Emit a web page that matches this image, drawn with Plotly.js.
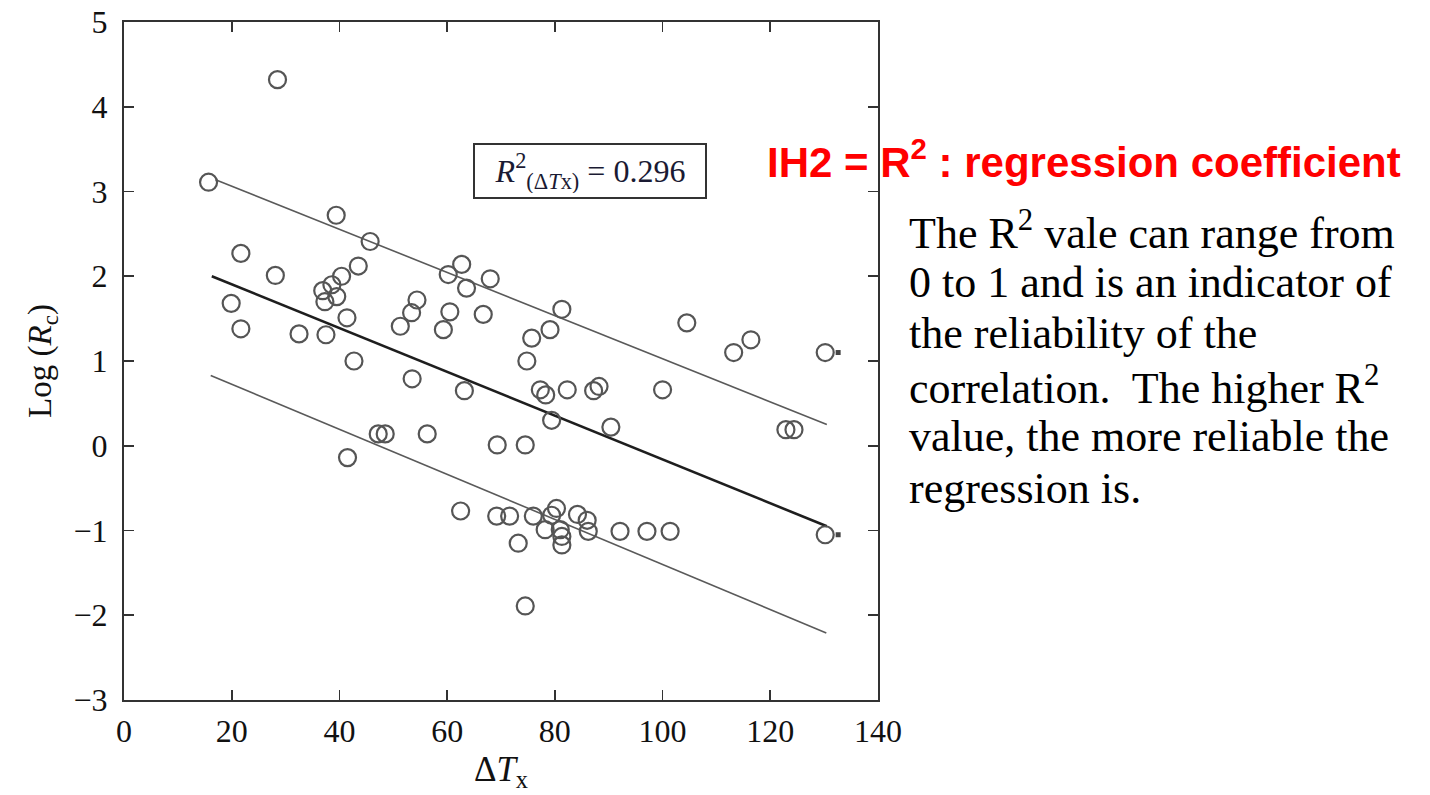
<!DOCTYPE html>
<html>
<head>
<meta charset="utf-8">
<script src="https://cdn.plot.ly/plotly-3.0.1.min.js"></script>
<style>html,body{margin:0;padding:0;background:#fff;}#chart{width:1430px;height:795px;}</style>
</head>
<body>
<div id="chart"></div>
<script>
// Scatter data: ΔTx vs Log(Rc)
const deltaTx = [15.7, 28.5, 39.4, 45.7, 21.7, 28.1, 43.5, 40.4, 36.9, 38.6, 39.5, 37.3, 19.9, 41.4, 21.7, 32.5, 37.5, 42.7,
  51.3, 53.4, 54.4, 60.2, 62.7, 63.6, 68.0, 60.5, 59.3, 66.7, 53.5, 63.2, 47.2, 48.5, 56.3, 41.5, 69.3, 74.5, 62.5,
  81.3, 104.5, 75.7, 79.1, 74.8, 113.2, 116.4, 130.2, 77.3, 78.3, 82.3, 87.2, 88.2, 100.0, 79.4, 90.4, 122.9, 124.4,
  69.2, 71.6, 76.0, 80.3, 79.4, 84.2, 86.0, 78.2, 81.0, 81.3, 81.3, 86.2, 92.1, 97.1, 101.4, 73.2, 74.5, 130.2];
const logRc = [3.11, 4.32, 2.72, 2.41, 2.27, 2.01, 2.12, 2.00, 1.83, 1.90, 1.76, 1.70, 1.68, 1.51, 1.38, 1.32, 1.31, 1.00,
  1.41, 1.57, 1.72, 2.02, 2.14, 1.86, 1.97, 1.58, 1.37, 1.55, 0.79, 0.65, 0.14, 0.14, 0.14, -0.14, 0.01, 0.01, -0.77,
  1.61, 1.45, 1.27, 1.37, 1.00, 1.10, 1.25, 1.10, 0.66, 0.60, 0.66, 0.65, 0.70, 0.66, 0.30, 0.22, 0.19, 0.19,
  -0.83, -0.83, -0.83, -0.74, -0.82, -0.81, -0.88, -0.99, -0.99, -1.07, -1.17, -1.01, -1.01, -1.01, -1.01, -1.15, -1.89, -1.05];
// small clipped marks at the right edge
const clipX = [132.6, 132.6];
const clipY = [1.10, -1.05];
// regression line and bounds (end points)
const fitX = [16.3, 130.5];
const fitY = [2.00, -0.95];
const upperX = [17.0, 130.5];
const upperY = [3.14, 0.25];
const lowerX = [16.1, 130.4];
const lowerY = [0.83, -2.21];
const xTicks = [0, 20, 40, 60, 80, 100, 120, 140];
const yTicks = [-3, -2, -1, 0, 1, 2, 3, 4, 5];
// explanatory text lines
const noteLines = ['The R<sup>2</sup> vale can range from', '0 to 1 and is an indicator of', 'the reliability of the',
  'correlation.  The higher R<sup>2</sup>', 'value, the more reliable the', 'regression is.'];

const serif = 'Liberation Serif, Times New Roman, serif';

const traces = [
  {x: upperX, y: upperY, mode: 'lines', line: {color: '#5a5a5a', width: 1.6}, hoverinfo: 'skip'},
  {x: lowerX, y: lowerY, mode: 'lines', line: {color: '#5a5a5a', width: 1.6}, hoverinfo: 'skip'},
  {x: fitX, y: fitY, mode: 'lines', line: {color: '#1e1e1e', width: 2.6}, hoverinfo: 'skip'},
  {x: deltaTx, y: logRc, mode: 'markers',
   marker: {symbol: 'circle-open', size: 17, color: '#555555', line: {width: 2.2, color: '#555555'}}},
  {x: clipX, y: clipY, mode: 'markers', marker: {symbol: 'square', size: 5, color: '#444'}, cliponaxis: false}
];

const axisCommon = {
  showgrid: false, zeroline: false, showline: true, linecolor: '#333', linewidth: 2,
  mirror: 'ticks', ticks: 'inside', ticklen: 10, tickwidth: 1.6, tickcolor: '#333',
  tickfont: {family: serif, size: 32, color: '#111'}
};

const annotations = [
  {xref: 'paper', yref: 'paper', x: 0.618, y: 0.780, xanchor: 'center', yanchor: 'middle',
   text: '<i>R</i><sup>2</sup><sub>(Δ<i>T</i>x)</sub> = 0.296', showarrow: false,
   font: {family: serif, size: 32, color: '#1a1a33'},
   bordercolor: '#333', borderwidth: 2, borderpad: 4, bgcolor: '#fff', width: 222, height: 44},
  {xref: 'paper', yref: 'paper', x: 0.850, y: 0.798, xanchor: 'left', yanchor: 'middle',
   text: '<b>IH2 = R<sup>2</sup> : regression coefficient</b>', showarrow: false,
   font: {family: 'Liberation Sans, Arial, sans-serif', size: 42, color: '#ff0000'}}
];
noteLines.forEach(function (t, i) {
  const py = 231 + 51.4 * i;
  annotations.push({xref: 'paper', yref: 'paper', x: (907 - 124) / 754, y: (700 - py) / 678,
    xanchor: 'left', yanchor: 'middle', align: 'left', text: t, showarrow: false,
    font: {family: serif, size: 44, color: '#000'}});
});

const layout = {
  width: 1430, height: 795,
  margin: {l: 124, r: 552, t: 22, b: 95},
  paper_bgcolor: '#fff', plot_bgcolor: '#fff',
  showlegend: false,
  xaxis: Object.assign({}, axisCommon, {
    range: [0, 140], tickvals: xTicks, ticklabelstandoff: 2,
    title: {text: 'Δ<i>T</i><sub>x</sub>', font: {family: serif, size: 35, color: '#111'}, standoff: 8}
  }),
  yaxis: Object.assign({}, axisCommon, {
    range: [-3, 5], tickvals: yTicks, ticklabelstandoff: 8,
    title: {text: 'Log (<i>R</i><sub>c</sub>)', font: {family: serif, size: 33, color: '#111'}, standoff: 12}
  }),
  annotations: annotations
};

Plotly.newPlot('chart', traces, layout, {displayModeBar: false, staticPlot: true});
</script>
</body>
</html>
